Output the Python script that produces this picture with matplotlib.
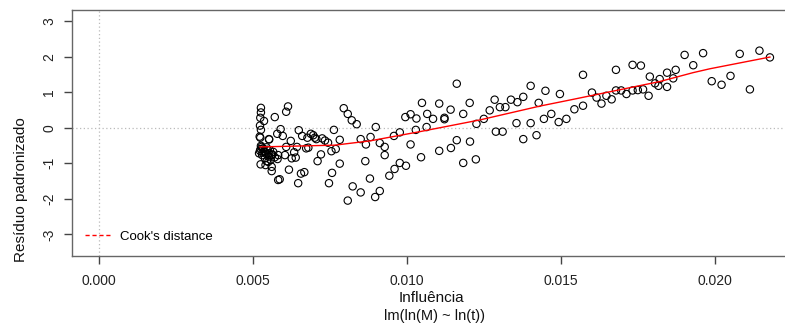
import numpy as np
import matplotlib
matplotlib.use('Agg')
import matplotlib.pyplot as plt
from matplotlib.lines import Line2D

plt.rcParams['font.family'] = ['Liberation Sans', 'DejaVu Sans']

# Influencia (leverage) em milesimos e residuo padronizado
lev_e3 = [
    5.26, 5.26, 5.24, 5.36, 5.23, 5.26, 5.22, 5.24, 5.52,
    5.23, 5.28, 5.33, 5.39, 5.44, 5.50, 5.55, 5.61, 5.66, 5.71, 5.53, 5.26, 5.35,
    5.43, 5.52, 5.63, 5.30, 5.39, 5.45, 5.82, 5.80, 5.25, 5.31, 5.48, 5.58, 5.20,
    5.25, 5.41, 5.61, 5.50, 5.61, 6.17, 6.56, 6.67, 5.87, 5.82, 6.47, 7.47, 7.57,
    5.71, 6.08, 6.14, 5.90, 5.79, 5.97, 6.23, 6.49, 6.60, 6.77, 6.88, 6.96, 7.01,
    7.06, 7.25, 7.34, 7.63,
    6.08, 6.43, 6.73, 6.80, 6.34, 6.04, 6.26, 6.39, 7.21, 7.10, 7.55,
    7.95, 8.08, 8.21, 8.37, 8.99, 7.44, 7.82, 8.50, 8.67, 8.82, 9.12, 9.28, 9.28,
    7.69, 9.58, 9.77, 10.12, 9.95, 10.12, 10.31, 10.49, 10.66, 10.29, 10.64, 10.46,
    7.82, 8.65, 8.24, 8.50, 8.08, 8.80, 8.97, 9.12, 9.43, 9.60, 9.77, 9.97,
    10.85, 11.05, 11.22, 11.22, 11.42, 11.62, 11.83, 12.04, 12.26, 12.50, 12.69,
    12.85, 13.02, 13.20, 13.38, 13.59, 13.78, 14.02, 14.28, 12.89, 13.11, 13.56,
    14.02, 14.21, 13.78, 11.62, 12.05, 11.43, 11.05, 11.83, 12.24,
    14.50, 14.45, 14.69, 14.93, 14.97, 15.18, 15.44, 15.72, 15.72, 16.01, 16.16,
    16.32, 16.48, 16.65, 16.79, 16.79, 16.96, 17.13, 17.33, 17.50, 17.67, 17.33,
    17.60, 17.85, 17.89, 18.06, 18.17, 18.21,
    18.45, 18.65, 18.73, 18.45, 19.02, 19.30, 19.62, 19.90, 20.22, 20.51, 20.81,
    21.14, 21.45, 21.79,
]
residuo = [
    0.56, 0.43, 0.28, 0.19, 0.06, -0.06, -0.25, -0.28, -0.32,
    -0.65, -0.54, -0.58, -0.68, -0.55, -0.72, -0.63, -0.77, -0.68, -0.83, -0.33, -0.51, -0.66,
    -0.73, -0.81, -0.75, -0.77, -0.86, -0.94, -0.77, -0.88, -0.60, -0.70, -0.62, -0.90, -0.72,
    -1.03, -1.05, -1.10, -0.96, -1.22, -1.18, -1.29, -1.25, -1.45, -1.47, -1.56, -1.56, -1.27,
    0.30, 0.45, 0.60, -0.04, -0.17, -0.23, -0.37, -0.07, -0.23, -0.28, -0.17, -0.21, -0.28,
    -0.32, -0.30, -0.36, -0.06,
    -0.54, -0.54, -0.58, -0.56, -0.69, -0.77, -0.86, -0.84, -0.75, -0.94, -0.66,
    0.55, 0.39, 0.21, 0.10, 0.02, -0.42, -0.34, -0.32, -0.47, -0.26, -0.43, -0.54, -0.77,
    -0.60, -0.23, -0.13, -0.47, 0.30, 0.38, 0.26, 0.70, 0.39, -0.06, 0.02, -0.83,
    -1.01, -0.94, -1.65, -1.82, -2.05, -1.43, -1.95, -1.78, -1.35, -1.16, -0.99, -1.07,
    0.25, 0.68, 0.28, 0.24, 0.51, 1.24, 0.39, 0.70, 0.11, 0.25, 0.49,
    0.79, 0.58, 0.58, 0.79, 0.72, 0.87, 1.18, 0.70, -0.11, -0.11, 0.13,
    0.13, -0.21, -0.32, -0.35, -0.39, -0.57, -0.65, -0.99, -0.89,
    1.04, 0.25, 0.39, 0.16, 0.95, 0.25, 0.52, 0.62, 1.49, 0.99, 0.85,
    0.68, 0.90, 0.80, 1.63, 1.05, 1.05, 0.95, 1.05, 1.06, 1.08, 1.77,
    1.75, 0.90, 1.44, 1.25, 1.18, 1.37,
    1.55, 1.39, 1.63, 1.15, 2.05, 1.76, 2.10, 1.31, 1.21, 1.46, 2.08,
    1.08, 2.17, 1.98,
]

# curva suavizada (vermelha)
suave_lev_e3 = [5.23, 7.66, 8.80, 10.42, 12.37, 14.32, 15.29, 17.14, 18.21, 19.29, 19.84, 21.79]
suave_res = [-0.54, -0.49, -0.37, -0.11, 0.22, 0.61, 0.78, 1.11, 1.30, 1.55, 1.66, 1.99]

x_ticks = [0.000, 0.005, 0.010, 0.015, 0.020]
y_ticks = [-3, -2, -1, 0, 1, 2, 3]

lev = np.array(lev_e3) / 1000.0
suave_lev = np.array(suave_lev_e3) / 1000.0

fig = plt.figure(figsize=(7.85, 3.25), dpi=100)
ax = fig.add_axes([0.0913, 0.2123, 0.924, 0.757])

ax.axhline(0, color='#bbbbbb', linestyle=(0, (1, 2)), linewidth=0.9, zorder=1)
ax.axvline(0, color='#bbbbbb', linestyle=(0, (1, 2)), linewidth=0.9, zorder=1)

ax.scatter(lev, residuo, s=28, facecolors='none', edgecolors='black',
           linewidths=0.8, zorder=3)
ax.plot(suave_lev, suave_res, color='red', linewidth=1.0, zorder=4)

ax.set_xlim(-0.000886, 0.02267)
ax.set_ylim(-3.61, 3.315)
ax.set_xticks(x_ticks)
ax.set_xticklabels(['%.3f' % v for v in x_ticks])
ax.set_yticks(y_ticks)
ax.set_yticklabels([str(v) for v in y_ticks], rotation=90, va='center')

for s in ax.spines.values():
    s.set_color('#666666')
    s.set_linewidth(1.0)
ax.tick_params(axis='both', direction='out', length=6, width=1.0,
               color='#444444', labelcolor='#222222', labelsize=10)
ax.tick_params(axis='x', pad=7)
ax.tick_params(axis='y', pad=5)

leg_handle = Line2D([], [], color='red', linestyle=(0, (3, 2)), linewidth=1.0)
ax.legend([leg_handle], ["Cook's distance"], loc='lower left', frameon=False,
          fontsize=9.5, handlelength=1.9, handletextpad=0.8,
          bbox_to_anchor=(0.0, 0.0), borderaxespad=0.6)

fig.text(0.027, 0.415, 'Resíduo padronizado', rotation=90, ha='center',
         va='center', fontsize=11, color='#111111')
fig.text(0.55, 0.083, 'Influência', ha='center', va='center', fontsize=11,
         color='#111111')
fig.text(0.554, 0.028, 'lm(ln(M) ~ ln(t))', ha='center', va='center',
         fontsize=10.5, color='#111111')

fig.savefig('out.png', dpi=100)
plt.close(fig)
